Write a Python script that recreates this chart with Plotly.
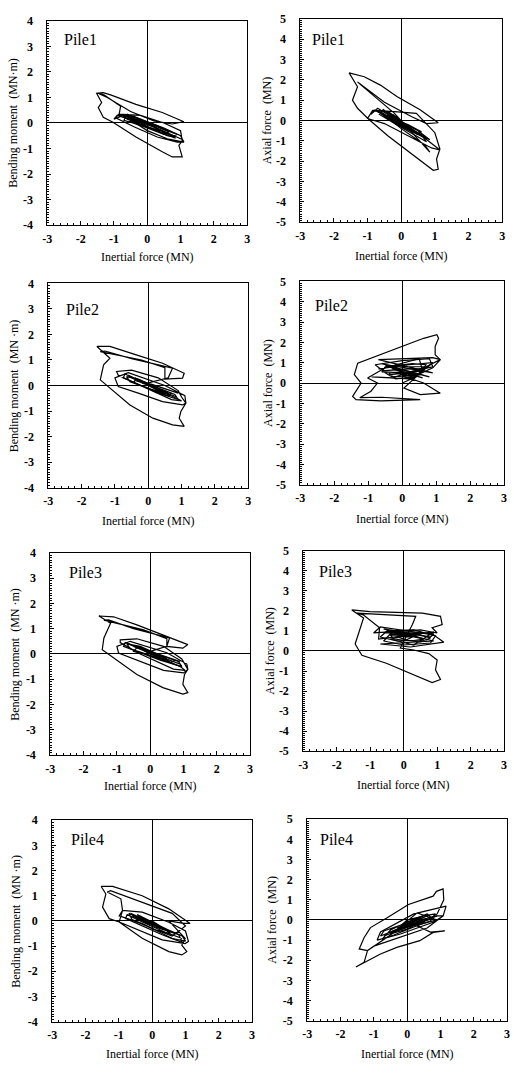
import plotly.graph_objects as go

# ---------------- data (x = inertial force MN, y = response) ----------------
pile1_bm = [(0,0),(0.25,-0.15),(-0.2,0.15),(0.35,-0.25),(-0.3,0.2),(0.5,-0.35),(-0.45,0.3),(0.65,-0.45),
            (-0.6,0.35),(0.85,-0.55),(0.6,-0.5),(-0.3,0.05),(-0.9,0.3),(-1.0,0.15),(-0.7,0.3),(0.2,-0.15),
            (0.8,-0.5),(1.05,-0.65),(1.1,-0.75),(0.9,-0.75),(0.3,-0.55),(-0.4,-0.15),(-0.95,0.2),(-0.85,0.35),
            (-0.2,0.3),(0.5,0.0),(1.0,-0.3),(1.05,-0.7),(0.95,-0.88),(1.0,-1.13),(1.05,-1.33),(0.75,-1.33),
            (0.45,-1.13),(-0.34,-0.55),(-1.03,0.03),(-1.32,0.22),(-1.47,0.6),(-1.37,0.8),(-1.52,1.16),(-1.32,1.19),
            (-1.1,1.1),(-0.34,0.73),(0.45,0.41),(1.1,0.05),(0.75,-0.04),(0.2,0.08),(-0.5,0.45),(-1.2,1.0),
            (-1.45,1.15),(-1.3,1.1),(-0.8,0.65),(-0.85,0.3),(-0.5,0.28),(0.5,-0.2),(1.0,-0.5),(1.1,-0.75),
            (0.6,-0.62),(0.0,-0.3),(-0.6,0.2),(0.3,-0.2),(-0.3,0.15),(0.2,-0.1),(-0.1,0.05),(0,0)]
pile1_bm_inner = [(0.7,-0.35),(0.3,-0.1),(-0.3,0.2),(-0.75,0.3),(-0.6,0.15),(-0.1,-0.1),(0.4,-0.35),(0.8,-0.5),
                  (0.9,-0.45),(0.5,-0.25),(-0.2,0.1),(-0.65,0.25),(-0.7,0.1),(-0.3,-0.05),(0.3,-0.35),(0.85,-0.6),
                  (0.6,-0.4),(0.1,-0.1),(-0.4,0.15),(-0.55,0.05),(-0.1,-0.15),(0.5,-0.45),(0.65,-0.35),(0.2,-0.1),
                  (-0.3,0.1),(-0.4,0.0),(0.0,-0.15),(0.4,-0.3)]

pile1_ax = [(0,0),(0.3,-0.4),(-0.25,0.3),(0.45,-0.6),(-0.4,0.45),(0.6,-0.75),(-0.55,0.55),(0.75,-0.9),
            (-0.7,0.6),(-0.9,0.3),(-0.8,0.5),(0.2,-0.3),(0.8,-1.0),(1.15,-1.45),(0.9,-1.35),(0.3,-0.85),
            (-0.5,-0.15),(-1.0,0.1),(-0.85,0.5),(-0.3,0.45),(0.45,0.35),(1.0,-0.6),(1.15,-1.4),(1.05,-1.9),
            (1.1,-2.4),(0.95,-2.45),(0.4,-1.75),(-0.4,-0.75),(-0.96,0.05),(-1.3,0.6),(-1.45,1.0),(-1.3,1.66),
            (-1.55,2.34),(-1.1,2.15),(-0.62,1.74),(-0.13,1.18),(0.56,0.53),(1.1,-0.11),(0.75,-0.15),(0.3,0.2),
            (-0.5,0.9),(-1.3,1.9),(-1.2,1.75),(-0.2,0.35),(0.85,-1.56),(0.7,-1.2),(0.0,-0.4),(-0.6,0.4),
            (0.5,-0.7),(-0.4,0.3),(0.3,-0.5),(-0.2,0.2),(0,0)]
pile1_ax_inner = [(0.8,-0.9),(0.4,-0.55),(-0.2,-0.05),(-0.6,0.4),(-0.7,0.45),(-0.4,0.1),(0.2,-0.45),(0.7,-0.85),
                  (0.85,-0.95),(0.5,-0.5),(-0.1,0.0),(-0.55,0.5),(-0.65,0.3),(-0.2,-0.15),(0.4,-0.7),(0.75,-1.05),
                  (0.6,-0.7),(0.1,-0.25),(-0.4,0.25),(-0.5,0.15),(0.0,-0.2),(0.5,-0.65),(0.6,-0.55),(0.2,-0.2),
                  (-0.3,0.1)]

pile2_bm = [(0,0),(0.3,-0.2),(-0.25,0.2),(0.45,-0.3),(-0.4,0.3),(0.65,-0.4),(-0.6,0.4),(0.85,-0.5),
            (1.0,-0.6),(0.7,-0.55),(-0.3,0.05),(-0.9,0.4),(-0.95,0.55),(-0.5,0.6),(0.3,0.3),(0.9,-0.2),
            (1.0,-0.45),(1.13,-0.69),(1.03,-0.76),(0.43,-0.63),(-0.3,-0.3),(-0.9,-0.04),(-1.0,0.3),(-0.6,0.5),
            (0.5,0.0),(1.1,-0.4),(1.13,-0.69),(0.98,-1.02),(0.93,-1.28),(1.08,-1.6),(0.73,-1.54),(0.14,-1.28),
            (-0.55,-0.76),(-1.25,0.03),(-1.44,0.22),(-1.34,0.81),(-1.15,1.07),(-1.54,1.53),(-1.15,1.53),(-0.36,1.2),
            (0.43,0.87),(1.08,0.48),(1.03,0.29),(0.5,0.25),(0.5,0.7),(-0.2,1.0),(-1.44,1.33),(-1.3,1.35),
            (-0.5,1.05),(0.73,0.68),(0.6,0.3),(0.0,0.1),(0.9,-0.3),(-0.5,0.3),(0.6,-0.3),(-0.3,0.2),(0.3,-0.1),(0,0)]
pile2_bm_inner = [(0.85,-0.45),(0.4,-0.2),(-0.2,0.15),(-0.7,0.45),(-0.75,0.3),(-0.3,0.05),(0.3,-0.3),(0.9,-0.55),
                  (0.8,-0.35),(0.3,-0.1),(-0.3,0.25),(-0.65,0.35),(-0.55,0.15),(0.0,-0.1),(0.6,-0.4),(0.7,-0.3),
                  (0.2,-0.05),(-0.4,0.2),(-0.45,0.1),(0.1,-0.15),(0.5,-0.3),(0.4,-0.15),(-0.2,0.1)]

pile2_ax = [(0,0),(0.4,0.3),(-0.3,0.7),(0.6,0.25),(-0.5,0.85),(0.8,0.3),(-0.6,0.95),(0.9,0.5),
            (-0.7,1.15),(0.9,1.25),(1.12,1.15),(0.7,0.8),(-0.3,0.25),(-0.9,0.3),(0.2,0.2),(0.9,0.75),
            (1.12,1.15),(0.97,1.39),(0.97,1.8),(1.07,2.2),(1.02,2.38),(0.63,2.2),(-0.3,1.6),(-1.31,0.98),
            (-1.41,0.41),(-1.21,0.0),(-1.46,-0.66),(-1.36,-0.82),(-0.63,-0.88),(0.53,-0.82),(-0.6,-0.7),(-1.25,-0.72),
            (-0.92,-0.4),(-0.73,0.0),(-1.02,0.25),(-0.5,0.75),(0.5,1.2),(0.6,0.6),(0.05,-0.25),(0.53,-0.57),
            (1.12,-0.5),(0.63,0.0),(0.0,0.35),(0.8,0.8),(-0.4,0.8),(0.6,0.4),(-0.2,0.5),(0.3,0.3),(0,0.2)]
pile2_ax_inner = [(-0.7,0.7),(0.2,0.9),(0.9,1.0),(0.6,0.6),(-0.4,0.4),(-0.8,0.9),(0.0,1.1),(0.8,1.2),
                  (0.9,0.8),(0.1,0.5),(-0.6,0.55),(-0.5,0.8),(0.3,0.95),(0.7,0.9),(0.5,0.4),(-0.3,0.3),
                  (-0.6,0.6),(0.2,0.7),(0.6,0.7),(0.4,0.3),(-0.2,0.2),(-0.4,0.5),(0.3,0.55)]

pile3_bm = [(0,0),(0.3,-0.2),(-0.3,0.2),(0.5,-0.3),(-0.45,0.3),(0.7,-0.4),(-0.65,0.4),(0.9,-0.5),
            (1.05,-0.65),(0.7,-0.6),(-0.3,0.0),(-0.9,0.45),(-0.9,0.56),(-0.4,0.6),(0.4,0.3),(0.95,-0.2),
            (1.13,-0.61),(1.0,-0.75),(0.4,-0.65),(-0.4,-0.25),(-0.95,0.04),(-1.0,0.3),(-0.6,0.5),(0.5,0.05),
            (1.1,-0.4),(1.13,-0.61),(1.03,-0.81),(0.98,-1.2),(1.13,-1.53),(0.98,-1.59),(0.38,-1.33),(-0.4,-0.81),
            (-1.19,-0.09),(-1.44,0.17),(-1.39,0.63),(-1.19,1.21),(-1.54,1.5),(-1.1,1.47),(-0.4,1.15),(0.48,0.69),
            (1.13,0.37),(0.98,0.23),(0.5,0.3),(0.5,0.6),(-0.2,0.95),(-1.39,1.34),(-1.25,1.35),(-0.5,1.0),
            (0.58,0.63),(0.5,0.3),(0.0,0.1),(0.9,-0.3),(-0.5,0.3),(0.6,-0.3),(-0.3,0.2),(0.3,-0.1),(0,0)]
pile3_bm_inner = [(0.9,-0.4),(0.4,-0.15),(-0.2,0.2),(-0.75,0.45),(-0.8,0.3),(-0.3,0.05),(0.3,-0.25),(0.95,-0.5),
                  (0.85,-0.3),(0.3,-0.05),(-0.3,0.3),(-0.7,0.4),(-0.6,0.2),(0.0,-0.05),(0.6,-0.35),(0.75,-0.25),
                  (0.2,0.0),(-0.4,0.25),(-0.5,0.1),(0.1,-0.1),(0.55,-0.25),(0.4,-0.1),(-0.2,0.15)]

pile3_ax = [(0,0.5),(0.4,0.8),(-0.3,0.9),(0.6,0.6),(-0.5,1.0),(0.8,0.7),(-0.6,1.1),(0.9,0.5),
            (-0.7,0.35),(0.2,0.2),(1.2,0.44),(0.9,0.8),(-0.7,1.2),(-0.9,0.9),(0.5,1.05),(1.0,0.9),
            (0.85,1.16),(1.15,1.32),(1.1,1.73),(0.56,1.89),(-0.3,1.95),(-1.01,1.97),(-1.55,2.05),(-1.2,1.65),
            (-1.45,0.35),(-1.25,-0.21),(-0.52,-0.61),(0.26,-1.18),(0.85,-1.58),(1.1,-1.42),(0.95,-0.94),(1.0,-0.45),
            (0.75,-0.13),(0.3,0.05),(-0.1,0.15),(0.26,1.32),(0.36,1.73),(-1.4,1.89),(-1.2,1.8),(-0.72,1.16),
            (-0.75,0.6),(0.9,0.95),(0.3,0.3),(-0.4,0.6),(0.6,0.9),(-0.2,0.8),(0.3,0.7),(0,0.7)]
pile3_ax_inner = [(-0.6,0.9),(0.2,0.95),(0.9,0.85),(0.7,0.55),(-0.2,0.5),(-0.7,0.7),(-0.5,1.0),(0.3,1.05),
                  (0.95,0.75),(0.8,0.4),(0.0,0.3),(-0.6,0.5),(-0.4,0.85),(0.4,0.85),(0.8,0.65),(0.5,0.45),
                  (-0.3,0.6),(-0.4,0.8),(0.3,0.75),(0.6,0.6),(0.2,0.5),(-0.2,0.7)]

pile4_bm = [(0,0),(0.3,-0.25),(-0.3,0.15),(0.5,-0.35),(-0.45,0.25),(0.7,-0.5),(-0.65,0.3),(0.9,-0.6),
            (1.0,-0.8),(0.6,-0.7),(-0.3,-0.1),(-0.99,0.2),(-0.89,0.42),(-0.3,0.35),(0.5,-0.05),(1.0,-0.4),
            (1.09,-0.82),(0.99,-0.9),(0.3,-0.75),(-0.5,-0.3),(-0.99,-0.04),(-1.29,0.09),(-1.49,0.55),(-1.39,1.07),
            (-1.53,1.37),(-1.19,1.37),(-0.3,1.0),(0.5,0.48),(1.14,-0.1),(0.94,-0.1),(0.5,0.0),(0.99,-0.69),
            (0.89,-0.96),(1.04,-1.22),(0.89,-1.35),(0.5,-1.22),(-0.3,-0.69),(-0.99,-0.04),(-0.89,0.42),(-0.94,0.88),
            (-1.35,1.15),(-1.25,1.2),(-0.3,0.75),(0.6,0.3),(1.0,-0.2),(0.7,-0.5),(0.0,-0.2),(-0.6,0.2),
            (0.5,-0.4),(-0.4,0.1),(0.3,-0.3),(0,0)]
pile4_bm_inner = [(0.9,-0.7),(0.4,-0.45),(-0.2,-0.1),(-0.75,0.25),(-0.8,0.1),(-0.3,-0.2),(0.3,-0.55),(0.9,-0.85),
                  (0.8,-0.55),(0.3,-0.3),(-0.3,0.05),(-0.7,0.3),(-0.6,0.05),(0.0,-0.3),(0.6,-0.6),(0.7,-0.5),
                  (0.2,-0.25),(-0.4,0.1),(-0.5,0.0),(0.1,-0.35),(0.55,-0.5),(0.4,-0.35),(-0.2,-0.05)]

pile4_ax = [(0,0),(0.4,0.15),(-0.3,-0.4),(0.6,0.2),(-0.5,-0.6),(0.8,0.1),(-0.7,-0.8),(0.9,0.2),
            (1.08,0.2),(0.8,-0.1),(-0.2,-0.7),(-0.9,-1.0),(-0.8,-0.6),(0.2,0.3),(1.17,0.69),(1.08,0.2),
            (0.6,-0.4),(-0.5,-1.0),(-1.0,-1.3),(-1.19,-1.52),(-1.29,-2.1),(-1.54,-2.34),(-0.8,-1.69),(-0.31,-1.36),
            (0.38,-1.03),(0.78,-0.62),(1.13,-0.54),(0.7,-0.6),(0.3,-0.3),(0.9,0.3),(1.1,1.0),(1.08,1.54),
            (0.88,1.42),(0.78,1.18),(0.04,0.77),(-0.6,0.11),(-1.1,-0.38),(-1.29,-0.87),(-1.44,-1.44),(-1.19,-1.52),
            (-0.5,-0.75),(0.3,0.35),(0.9,0.0),(-0.3,-0.5),(0.5,-0.1),(-0.2,-0.3),(0,0)]
pile4_ax_inner = [(0.9,0.2),(0.4,0.0),(-0.2,-0.4),(-0.8,-0.8),(-0.7,-0.55),(-0.1,-0.2),(0.5,0.2),(0.85,0.3),
                  (0.7,-0.05),(0.2,-0.35),(-0.4,-0.75),(-0.75,-0.95),(-0.5,-0.5),(0.0,-0.1),(0.6,0.3),(0.7,0.15),
                  (0.2,-0.2),(-0.4,-0.55),(-0.5,-0.7),(0.0,-0.45),(0.5,0.0),(0.4,0.1),(-0.2,-0.25)]

pile_labels = ["Pile1", "Pile1", "Pile2", "Pile2", "Pile3", "Pile3", "Pile4", "Pile4"]
y_titles = ["Bending moment  (MN·m)", "Axial force  (MN)",
            "Bending moment  (MN ·m)", "Axial force  (MN)",
            "Bending moment  (MN ·m)", "Axial force  (MN)",
            "Bending moment  (MN ·m)", "Axial force  (MN)"]
x_title = "Inertial force (MN)"
x_ticks = [-3, -2, -1, 0, 1, 2, 3]
bm_ticks = [-4, -3, -2, -1, 0, 1, 2, 3, 4]
ax_ticks = [-5, -4, -3, -2, -1, 0, 1, 2, 3, 4, 5]

series = [(pile1_bm, pile1_bm_inner), (pile1_ax, pile1_ax_inner),
          (pile2_bm, pile2_bm_inner), (pile2_ax, pile2_ax_inner),
          (pile3_bm, pile3_bm_inner), (pile3_ax, pile3_ax_inner),
          (pile4_bm, pile4_bm_inner), (pile4_ax, pile4_ax_inner)]
y_tick_sets = [bm_ticks, ax_ticks] * 4

# ---------------- layout geometry (pixels) ----------------
W, H = 514, 1074
boxes = [(43, 246, 14, 221), (300, 505, 12, 218),
         (44, 247, 280, 487), (300, 507, 278, 484),
         (46, 249, 553, 758), (303, 507, 551, 754),
         (48, 251, 824, 1028), (307, 510, 823, 1027)]
xtitle_y = [253, 252, 521, 519, 789, 788, 1061, 1061]
ytitle_x = [8, 266, 9, 267, 10, 269, 11, 271]
label_pos = [(58, 33), (310, 33), (60, 307), (313, 302), (63, 573), (317, 572), (65, 843), (318, 843)]

def fx(v): return v / W
def fy(v): return 1 - v / H
def lab(v): return str(v)  # plain hyphen minus as in the original

FONT = "Liberation Serif"
fig = go.Figure()
layout = dict(width=W, height=H, margin=dict(l=0, r=0, t=0, b=0),
              paper_bgcolor="white", plot_bgcolor="white", showlegend=False,
              font=dict(family=FONT, color="black", size=11))
annotations = []
for i, ((outer, inner), box) in enumerate(zip(series, boxes)):
    n = i + 1
    l, r, t, b = box
    for data in (outer, inner):
        fig.add_trace(go.Scatter(x=[p[0] for p in data], y=[p[1] for p in data], mode="lines",
                                 line=dict(color="black", width=1.2),
                                 xaxis=f"x{n}", yaxis=f"y{n}", hoverinfo="skip"))
    yt = y_tick_sets[i]
    common = dict(showline=True, mirror=True, linecolor="black", linewidth=1,
                  showgrid=False, zeroline=True, zerolinecolor="black", zerolinewidth=1,
                  ticks="inside", ticklen=4, tickcolor="black",
                  tickfont=dict(family=FONT, size=12, color="black", weight="bold"),
                  fixedrange=True)
    layout[f"xaxis{n}" if n > 1 else "xaxis"] = dict(common, domain=[fx(l), fx(r)],
                                                     range=[x_ticks[0], x_ticks[-1]],
                                                     tickmode="array", tickvals=x_ticks,
                                                     ticktext=[lab(v) for v in x_ticks],
                                                     minor=dict(ticks="inside", ticklen=2, dtick=0.2,
                                                                tickcolor="black", showgrid=False),
                                                     anchor=f"y{n}", ticklabelstandoff=2)
    layout[f"yaxis{n}" if n > 1 else "yaxis"] = dict(common, domain=[fy(b), fy(t)],
                                                     range=[yt[0], yt[-1]],
                                                     tickmode="array", tickvals=yt,
                                                     ticktext=[lab(v) for v in yt],
                                                     minor=dict(ticks="inside", ticklen=2, dtick=0.1,
                                                                tickcolor="black", showgrid=False),
                                                     anchor=f"x{n}", ticklabelstandoff=11)
    annotations.append(dict(text=x_title, xref="paper", yref="paper", x=fx((l + r) / 2), y=fy(xtitle_y[i]),
                            xanchor="center", yanchor="middle", showarrow=False,
                            font=dict(family=FONT, size=12, color="black")))
    annotations.append(dict(text=y_titles[i], xref="paper", yref="paper", x=fx(ytitle_x[i]), y=fy((t + b) / 2),
                            xanchor="center", yanchor="middle", textangle=-90, showarrow=False,
                            font=dict(family=FONT, size=12, color="black")))
    lx, ly = label_pos[i]
    annotations.append(dict(text=pile_labels[i], xref="paper", yref="paper", x=fx(lx), y=fy(ly),
                            xanchor="left", yanchor="middle", showarrow=False,
                            font=dict(family=FONT, size=16, color="black")))
layout["annotations"] = annotations
fig.update_layout(**layout)
fig.write_html("out.html")
